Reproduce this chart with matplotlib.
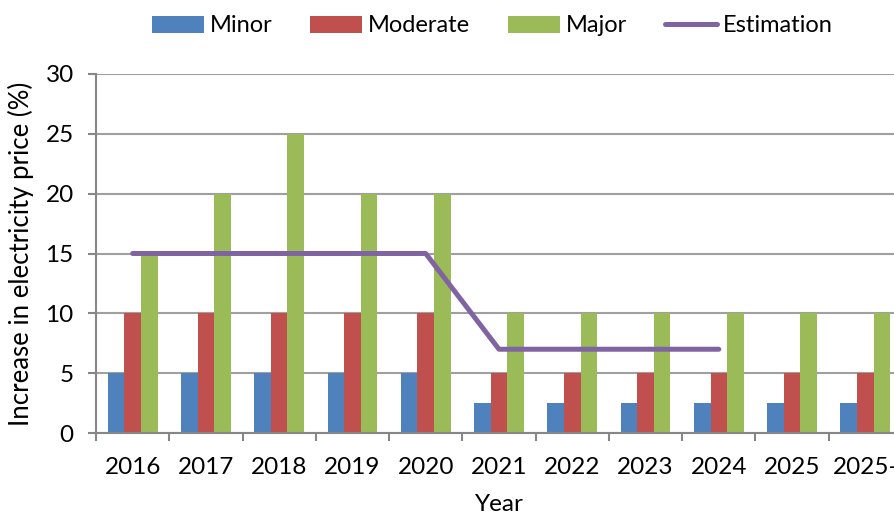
import matplotlib
matplotlib.use("Agg")
import matplotlib.pyplot as plt
import numpy as np

categories = ["2016", "2017", "2018", "2019", "2020", "2021", "2022", "2023", "2024", "2025", "2025-"]
minor = [5, 5, 5, 5, 5, 2.5, 2.5, 2.5, 2.5, 2.5, 2.5]
moderate = [10, 10, 10, 10, 10, 5, 5, 5, 5, 5, 5]
major = [15, 20, 25, 20, 20, 10, 10, 10, 10, 10, 10]
estimation = [15, 15, 15, 15, 15, 7, 7, 7, 7]

plt.rcParams['font.family'] = ['Lato', 'DejaVu Sans']

fig = plt.figure(figsize=(8.94, 5.21), dpi=100)
ax = fig.add_axes([96/894, 88/521, 806/894, 359/521])

x = np.arange(len(categories))
w = 0.227
b1 = ax.bar(x - w, minor, w, color='#4F81BD', label='Minor', zorder=3)
b2 = ax.bar(x, moderate, w, color='#C0504D', label='Moderate', zorder=3)
b3 = ax.bar(x + w, major, w, color='#9BBB59', label='Major', zorder=3)
ln, = ax.plot(np.arange(len(estimation)), estimation, color='#8064A2', lw=3.6,
              solid_capstyle='round', solid_joinstyle='round', label='Estimation', zorder=4)

ax.set_xlim(-0.5, len(categories) - 0.5)
ax.set_ylim(0, 30)
ax.set_yticks(range(0, 31, 5))
ax.set_xticks(x)
ax.set_xticklabels(categories)
ax.set_xticks(np.arange(-0.5, len(categories), 1), minor=True)
ax.tick_params(axis='x', which='major', length=0, pad=17, labelsize=17.5)
ax.tick_params(axis='x', which='minor', length=6, width=1.5, color='#868686')
ax.tick_params(axis='y', length=6, width=1.5, color='#868686', pad=10, labelsize=17.5)

ax.grid(axis='y', color='#A0A0A0', lw=1.5, zorder=0)
for s in ['top', 'right']:
    ax.spines[s].set_visible(False)
for s in ['left', 'bottom']:
    ax.spines[s].set_color('#868686')
    ax.spines[s].set_linewidth(1.5)
    ax.spines[s].set_zorder(5)

ax.set_ylabel('Increase in electricity price (%)', fontsize=18.5, labelpad=8)
ax.set_xlabel('Year', fontsize=17.5, labelpad=12)

leg = fig.legend([b1, b2, b3, ln], ['Minor', 'Moderate', 'Major', 'Estimation'],
                 loc='center', bbox_to_anchor=(492/894, 1 - 26/521), ncol=4, frameon=False,
                 fontsize=17, handlelength=2.2, handleheight=0.7, handletextpad=0.25,
                 columnspacing=1.6)

fig.savefig('out.png', dpi=100)
